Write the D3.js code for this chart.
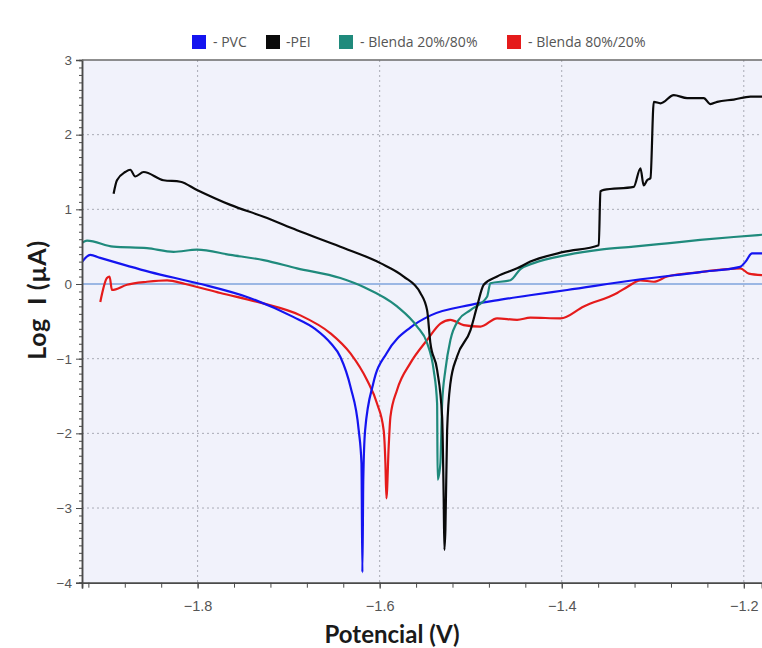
<!DOCTYPE html>
<html><head><meta charset="utf-8">
<script src="https://cdn.jsdelivr.net/npm/d3@7"></script>
<style>body{margin:0;background:#fff;} svg{display:block;}</style>
</head><body>
<svg id="c" width="762" height="648"></svg>
<script>
// ---- data ----
const seriesNames = ["- PVC", "-PEI", "- Blenda 20%/80%", "- Blenda 80%/20%"];
const seriesColors = ["#1414f0", "#0a0a0a", "#1f8a7c", "#e51b1b"];

const pvcV = [-1.9267,-1.918,-1.907,-1.852,-1.800,-1.742,-1.695,-1.671,-1.654,-1.643,-1.632,-1.623,-1.620,-1.619,-1.618,-1.616,-1.607,-1.592,-1.566,-1.544,-1.500,-1.467,-1.435,-1.394,-1.321,-1.248,-1.204,-1.198,-1.191,-1.180];
const pvcI = [0.30,0.39,0.35,0.16,0.01,-0.19,-0.44,-0.60,-0.79,-0.98,-1.38,-1.96,-2.40,-3.86,-2.62,-1.96,-1.33,-0.92,-0.58,-0.42,-0.28,-0.21,-0.15,-0.08,0.05,0.16,0.23,0.30,0.41,0.41];

const peiV = [-1.8923,-1.8886,-1.8795,-1.874,-1.8685,-1.8593,-1.8374,-1.819,-1.8007,-1.764,-1.7275,-1.6908,-1.6432,-1.5992,-1.5736,-1.5553,-1.5479,-1.5443,-1.5369,-1.5314,-1.5297,-1.5289,-1.5278,-1.5259,-1.5223,-1.515,-1.5003,-1.493,-1.4857,-1.471,-1.449,-1.4344,-1.3978,-1.3593,-1.3575,-1.3538,-1.3209,-1.3135,-1.3100,-1.3062,-1.3025,-1.2989,-1.2915,-1.2769,-1.2622,-1.2440,-1.2366,-1.2292,-1.211,-1.1926,-1.18];
const peiI = [1.21,1.39,1.50,1.53,1.44,1.50,1.39,1.37,1.26,1.06,0.90,0.72,0.50,0.28,0.10,-0.12,-0.35,-0.79,-1.15,-1.78,-2.85,-3.56,-3.29,-1.96,-1.33,-0.97,-0.62,-0.30,-0.01,0.10,0.21,0.30,0.43,0.52,1.24,1.26,1.30,1.55,1.32,1.39,1.42,2.44,2.42,2.53,2.49,2.49,2.41,2.44,2.47,2.51,2.51];

const b2080V = [-1.927,-1.9215,-1.8926,-1.8556,-1.8264,-1.8007,-1.764,-1.7275,-1.6908,-1.6432,-1.6176,-1.5809,-1.5589,-1.5479,-1.5407,-1.5369,-1.5363,-1.5333,-1.5314,-1.5278,-1.5223,-1.5132,-1.5003,-1.482,-1.4784,-1.4564,-1.4454,-1.4308,-1.394,-1.3575,-1.3212,-1.2842,-1.2479,-1.211,-1.18];
const b2080I = [0.55,0.58,0.50,0.48,0.43,0.46,0.39,0.32,0.21,0.08,-0.04,-0.30,-0.57,-0.79,-1.15,-1.60,-2.62,-2.40,-1.60,-1.15,-0.75,-0.48,-0.35,-0.17,0.01,0.05,0.20,0.28,0.39,0.46,0.50,0.545,0.59,0.63,0.66];

const b8020V = [-1.9069,-1.8996,-1.8967,-1.8941,-1.8776,-1.8556,-1.8336,-1.8135,-1.775,-1.7311,-1.6871,-1.6541,-1.6321,-1.6138,-1.6029,-1.5956,-1.5937,-1.5926,-1.5901,-1.5882,-1.5809,-1.5663,-1.5479,-1.5333,-1.5223,-1.5077,-1.4893,-1.471,-1.449,-1.4344,-1.4014,-1.3758,-1.3391,-1.3281,-1.3135,-1.2989,-1.2842,-1.2479,-1.204,-1.1944,-1.18];
const b8020I = [-0.24,0.08,0.10,-0.08,-0.01,0.03,0.05,0.0,-0.12,-0.25,-0.42,-0.66,-0.93,-1.29,-1.60,-1.96,-2.40,-2.87,-2.18,-1.78,-1.42,-1.06,-0.75,-0.53,-0.48,-0.55,-0.57,-0.46,-0.48,-0.45,-0.46,-0.30,-0.12,-0.04,0.05,0.03,0.10,0.16,0.21,0.14,0.12];

const xTicks = [-1.8, -1.6, -1.4, -1.2];
const yTicks = [-4, -3, -2, -1, 0, 1, 2, 3];
const xTitle = "Potencial (V)";
const yTitle = "Log\u2002I (\u00b5A)";

// ---- layout ----
const svg = d3.select("#c");
const L = 82, R = 762, T = 60, B = 582.7;
const x = d3.scaleLinear().domain([-1.927, -1.18]).range([L, R]);
const y = d3.scaleLinear().domain([-4, 3]).range([B, T]);

svg.append("rect").attr("x", L).attr("y", T).attr("width", R - L).attr("height", B - T).attr("fill", "#f1f2fb");

svg.append("defs").append("clipPath").attr("id", "clip")
  .append("rect").attr("x", L).attr("y", T).attr("width", R - L).attr("height", B - T);

// grid
const g = svg.append("g");
g.selectAll(".gx").data(xTicks).join("line")
  .attr("x1", d => x(d)).attr("x2", d => x(d)).attr("y1", T).attr("y2", B)
  .attr("stroke", "#a9abb5").attr("stroke-width", 1).attr("stroke-dasharray", "2,3");
g.selectAll(".gy").data(yTicks.filter(d => d !== 0 && d > -4 && d < 3)).join("line")
  .attr("x1", L).attr("x2", R).attr("y1", d => y(d)).attr("y2", d => y(d))
  .attr("stroke", "#a9abb5").attr("stroke-width", 1).attr("stroke-dasharray", "2,3");
g.append("line").attr("x1", L).attr("x2", R).attr("y1", y(0)).attr("y2", y(0))
  .attr("stroke", "#7ea3dc").attr("stroke-width", 1.5);

// series
const sets = [[pvcV, pvcI], [peiV, peiI], [b2080V, b2080I], [b8020V, b8020I]];
const line = d3.line().curve(d3.curveMonotoneX).x(d => x(d[0])).y(d => y(d[1]));
const order = [3, 0, 2, 1];
const lg = svg.append("g").attr("clip-path", "url(#clip)");
order.forEach(i => {
  const pts = sets[i][0].map((v, k) => [v, sets[i][1][k]]);
  lg.append("path").datum(pts).attr("d", line).attr("fill", "none")
    .attr("stroke", seriesColors[i]).attr("stroke-width", 2.2).attr("stroke-linejoin", "round");
});

// axes
const axisColor = "#4a4a4a";
const xAxis = svg.append("g").attr("transform", `translate(0,${B})`)
  .call(d3.axisBottom(x).tickValues(d3.range(-1.92, -1.18, 0.04)).tickSize(5).tickFormat(""));
const yAxisMinor = svg.append("g").attr("transform", `translate(${L},0)`)
  .call(d3.axisLeft(y).tickValues(d3.range(-40, 31, 1).map(d => d / 10)).tickSize(3).tickFormat(""));
const yAxis = svg.append("g").attr("transform", `translate(${L},0)`)
  .call(d3.axisLeft(y).tickValues(yTicks).tickSize(6).tickFormat(d3.format("d")));
const xLab = svg.append("g").attr("transform", `translate(0,${B})`)
  .call(d3.axisBottom(x).tickValues(xTicks).tickSize(6).tickPadding(12).tickFormat(d3.format(".1f")));
[xAxis, yAxisMinor, yAxis, xLab].forEach(a => {
  a.selectAll("path").attr("stroke", axisColor).attr("stroke-width", 1.5);
  a.selectAll("line").attr("stroke", axisColor);
  a.selectAll("text").attr("fill", "#555").attr("font-family", "Arial, 'Liberation Sans', sans-serif").attr("font-size", 13.5);
});
yAxis.selectAll("text").attr("dx", "-1px");
xLab.selectAll("text").attr("font-size", 14.5);
// top border
svg.append("line").attr("x1", L).attr("x2", R).attr("y1", T).attr("y2", T).attr("stroke", "#6a6a6a").attr("stroke-width", 1.5);

// titles
svg.append("text").attr("x", 392).attr("y", 643).attr("text-anchor", "middle")
  .attr("font-family", "Lato, 'Open Sans', sans-serif").attr("font-weight", "bold").attr("font-size", 24)
  .attr("fill", "#1a1a1a").text(xTitle);
svg.append("text").attr("transform", `translate(46,300) rotate(-90)`).attr("text-anchor", "middle")
  .attr("font-family", "Lato, 'Open Sans', sans-serif").attr("font-weight", "bold").attr("font-size", 25)
  .attr("letter-spacing", "0.6").attr("fill", "#1a1a1a").text(yTitle);

// legend
const legX = [192, 266, 339, 507];
const leg = svg.append("g");
seriesNames.forEach((n, i) => {
  leg.append("rect").attr("x", legX[i]).attr("y", 35).attr("width", 14).attr("height", 14).attr("fill", seriesColors[i]);
  leg.append("text").attr("x", legX[i] + (i === 1 ? 20 : 21)).attr("y", 47)
    .attr("font-family", "'Open Sans', sans-serif").attr("font-size", 14).attr("fill", "#555").text(n);
});
</script>
</body></html>
